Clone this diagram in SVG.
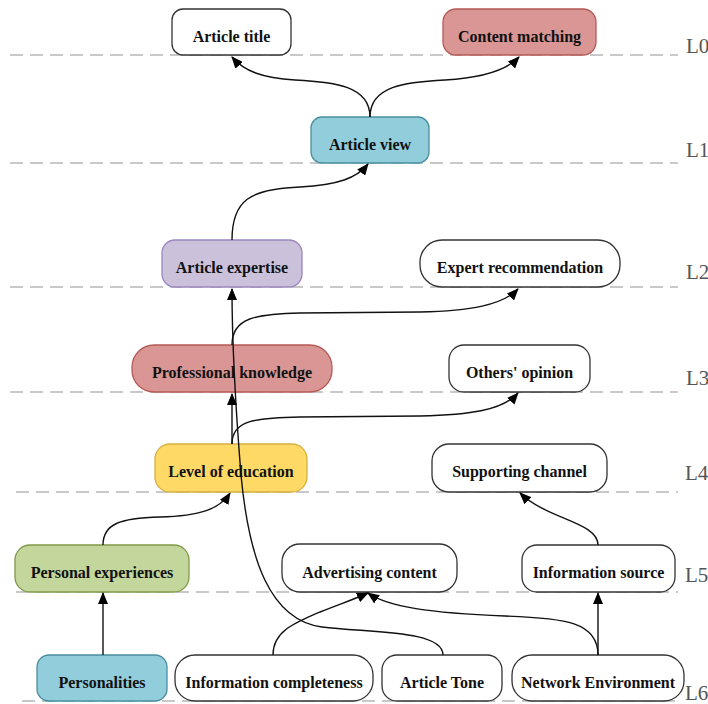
<svg xmlns="http://www.w3.org/2000/svg" width="708" height="704" viewBox="0 0 708 704">
<style>
.lvl{stroke:#c8c8c8;stroke-width:2;stroke-dasharray:13 7;fill:none}
.lab{font-family:"Liberation Serif","Times New Roman",serif;font-size:21px;fill:#555}
.box{stroke-width:1.3}
.w{fill:#ffffff;stroke:#333333}
.blue{fill:#92cddc;stroke:#4a8ea0}
.red{fill:#d99694;stroke:#b55a56}
.purple{fill:#ccc1da;stroke:#9a86bd}
.yellow{fill:#ffd966;stroke:#d6b040}
.green{fill:#c3d69b;stroke:#7f9a48}
.t{font-family:"Liberation Serif","Times New Roman",serif;font-size:16px;font-weight:bold;fill:#111;text-anchor:middle}
.c{fill:none;stroke:#111;stroke-width:1.4;marker-end:url(#ah)}
</style>
<defs>
<marker id="ah" viewBox="0 0 12 10" refX="11" refY="5" markerWidth="12" markerHeight="10" markerUnits="userSpaceOnUse" orient="auto">
<path d="M0,0 L12,5 L0,10 Z" fill="#000"/>
</marker>
</defs>
<rect width="708" height="704" fill="#ffffff"/>
<g id="levels">
<line class="lvl" x1="10" y1="55" x2="678" y2="55"/>
<line class="lvl" x1="10" y1="163" x2="678" y2="163"/>
<line class="lvl" x1="10" y1="287" x2="678" y2="287"/>
<line class="lvl" x1="10" y1="392" x2="678" y2="392"/>
<line class="lvl" x1="16" y1="492" x2="678" y2="492"/>
<line class="lvl" x1="16" y1="592" x2="678" y2="592"/>
<line class="lvl" x1="22" y1="701" x2="678" y2="701"/>
<text class="lab" x="686" y="53">L0</text>
<text class="lab" x="686" y="157">L1</text>
<text class="lab" x="686" y="279">L2</text>
<text class="lab" x="686" y="385">L3</text>
<text class="lab" x="685" y="480">L4</text>
<text class="lab" x="685" y="582">L5</text>
<text class="lab" x="685" y="700">L6</text>
</g>
<g id="n-article-title"><rect class="box w" x="172" y="9" width="119" height="46" rx="11"/><text class="t" x="231.5" y="42">Article title</text></g>
<g id="n-content-matching"><rect class="box red" x="443" y="9" width="153" height="46" rx="13"/><text class="t" x="519.5" y="42">Content matching</text></g>
<g id="n-article-view"><rect class="box blue" x="311" y="117" width="118" height="46" rx="11"/><text class="t" x="370" y="150">Article view</text></g>
<g id="n-article-expertise"><rect class="box purple" x="162" y="240" width="140" height="47" rx="13"/><text class="t" x="232" y="273">Article expertise</text></g>
<g id="n-expert-recommendation"><rect class="box w" x="420" y="240" width="200" height="47" rx="22"/><text class="t" x="520" y="273">Expert recommendation</text></g>
<g id="n-professional-knowledge"><rect class="box red" x="132" y="345" width="200" height="47" rx="22"/><text class="t" x="232" y="378">Professional knowledge</text></g>
<g id="n-others-opinion"><rect class="box w" x="449" y="345" width="141" height="47" rx="15"/><text class="t" x="519.5" y="378">Others' opinion</text></g>
<g id="n-level-of-education"><rect class="box yellow" x="155" y="444" width="152" height="48" rx="15"/><text class="t" x="231" y="477">Level of education</text></g>
<g id="n-supporting-channel"><rect class="box w" x="432" y="444" width="175" height="48" rx="17"/><text class="t" x="519.5" y="477">Supporting channel</text></g>
<g id="n-personal-experiences"><rect class="box green" x="15" y="545" width="174" height="47" rx="15"/><text class="t" x="102" y="578">Personal experiences</text></g>
<g id="n-advertising-content"><rect class="box w" x="282" y="544" width="175" height="48" rx="18"/><text class="t" x="369.5" y="578">Advertising content</text></g>
<g id="n-information-source"><rect class="box w" x="522" y="545" width="153" height="47" rx="15"/><text class="t" x="598.5" y="578">Information source</text></g>
<g id="n-personalities"><rect class="box blue" x="37" y="655" width="130" height="46" rx="12"/><text class="t" x="102" y="688">Personalities</text></g>
<g id="n-information-completeness"><rect class="box w" x="175" y="655" width="198" height="46" rx="20"/><text class="t" x="274" y="688">Information completeness</text></g>
<g id="n-article-tone"><rect class="box w" x="382" y="655" width="120" height="46" rx="15"/><text class="t" x="442" y="688">Article Tone</text></g>
<g id="n-network-environment"><rect class="box w" x="512" y="655" width="172" height="46" rx="20"/><text class="t" x="598" y="688">Network Environment</text></g>
<g id="connectors">
<path class="c" d="M370,117 C370,86 335,82 295,80 C262,78 244,71 232,57"/>
<path class="c" d="M370,117 C370,86 405,82 445,80 C478,78 506,71 519,57"/>
<path class="c" d="M232,240 C232,200 250,189 300,187 C338,185 357,178 368,164"/>
<path class="c" d="M443,655 C443,630 372,633 322,627 C270,620 249,560 241,475 C237,425 232,350 232,289"/>
<path class="c" d="M232,444 L232,394"/>
<path class="c" d="M232,345 C232,318 255,314 300,313 L420,312 C470,311 503,305 518,289"/>
<path class="c" d="M232,444 C232,420 255,418 300,417 L420,416 C470,415 503,410 518,393"/>
<path class="c" d="M103,545 C103,524 120,518 160,517 C200,516 220,509 230,493"/>
<path class="c" d="M103,655 L103,593"/>
<path class="c" d="M598,545 C598,522 548,520 520,493"/>
<path class="c" d="M598,655 L598,593"/>
<path class="c" d="M598,655 C598,622 565,618 505,616 C430,613 388,607 368,593"/>
<path class="c" d="M273,655 C273,632 292,624 320,612 C340,604 355,599 368,593"/>
</g>
</svg>
